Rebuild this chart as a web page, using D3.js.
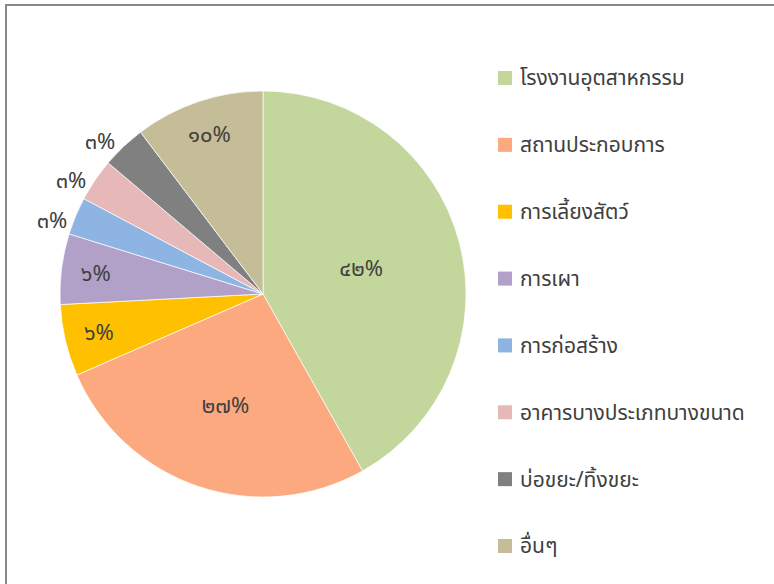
<!DOCTYPE html>
<html>

<head>
  <meta charset="utf-8">
  <title>pie-chart</title>
  <style>
    * {
      padding: 0;
      margin: 0;
    }

    body {
      width: 774px;
      height: 584px;
      background: #fff;
      overflow: hidden;
    }

    text {
      font-family: "Tahoma", "Noto Sans Thai", "Leelawadee UI", "Noto Sans", sans-serif;
      fill: #404040;
    }
  </style>
</head>

<body>
  <svg id="svg"></svg>
  <script src="https://cdnjs.cloudflare.com/ajax/libs/d3/7.8.5/d3.min.js"></script>
  <script>
    const categories = ['โรงงานอุตสาหกรรม', 'สถานประกอบการ', 'การเลี้ยงสัตว์', 'การเผา', 'การก่อสร้าง', 'อาคารบางประเภทบางขนาด', 'บ่อขยะ/ทิ้งขยะ', 'อื่นๆ'];
    const values = [41.8, 26.6, 5.7, 5.6, 3.0, 3.4, 3.5, 10.3];
    const labels = ['๔๒%', '๒๗%', '๖%', '๖%', '๓%', '๓%', '๓%', '๑๐%'];
    const colors = ['#c3d69b', '#fca97f', '#ffc000', '#b1a0c7', '#8db4e2', '#e6b9b8', '#808080', '#c4bd97'];

    const width = 774, height = 584;
    const cx = 263, cy = 294, radius = 203;

    const svg = d3.select('#svg').attr('width', width).attr('height', height);

    // chart frame, runs off the right and bottom edge
    svg.append('rect')
      .attr('x', 6).attr('y', 5)
      .attr('width', 800).attr('height', 600)
      .attr('fill', 'none')
      .attr('stroke', '#898989')
      .attr('stroke-width', 2);

    const data = categories.map((c, i) => ({ name: c, value: values[i], label: labels[i], color: colors[i] }));

    const pie = d3.pie().value(d => d.value).sort(null);
    const arcs = pie(data);
    const arc = d3.arc().innerRadius(0).outerRadius(radius);

    const g = svg.append('g').attr('transform', `translate(${cx},${cy})`);

    g.selectAll('path')
      .data(arcs)
      .enter()
      .append('path')
      .attr('d', arc)
      .attr('fill', d => d.data.color)
      .attr('stroke', '#fff')
      .attr('stroke-width', 0.7);

    // rough imitation of excel "best fit" label placement
    const labelFactor = v => v >= 40 ? 0.5 : v >= 20 ? 0.58 : v >= 5 ? 0.83 : 1.1;

    g.selectAll('.lbl')
      .data(arcs)
      .enter()
      .append('text')
      .attr('class', 'lbl')
      .attr('transform', d => {
        const r = radius * labelFactor(d.data.value);
        const a = (d.startAngle + d.endAngle) / 2 - (d.data.value < 5 ? 0.06 : 0);
        return `translate(${r * Math.sin(a)},${-r * Math.cos(a)})`;
      })
      .attr('text-anchor', 'middle')
      .attr('dy', '0.35em')
      .style('font-size', '22px')
      .text(d => d.data.label);

    // legend
    const legendY = d3.scalePoint().domain(categories).range([78, 546]);
    const legend = svg.append('g').selectAll('g')
      .data(data)
      .enter()
      .append('g')
      .attr('transform', d => `translate(498,${legendY(d.name)})`);

    legend.append('rect')
      .attr('x', 0).attr('y', -7)
      .attr('width', 14).attr('height', 14)
      .attr('fill', d => d.color);

    legend.append('text')
      .attr('x', 22)
      .attr('dy', '0.35em')
      .style('font-size', '21px')
      .text(d => d.name);
  </script>
</body>

</html>
